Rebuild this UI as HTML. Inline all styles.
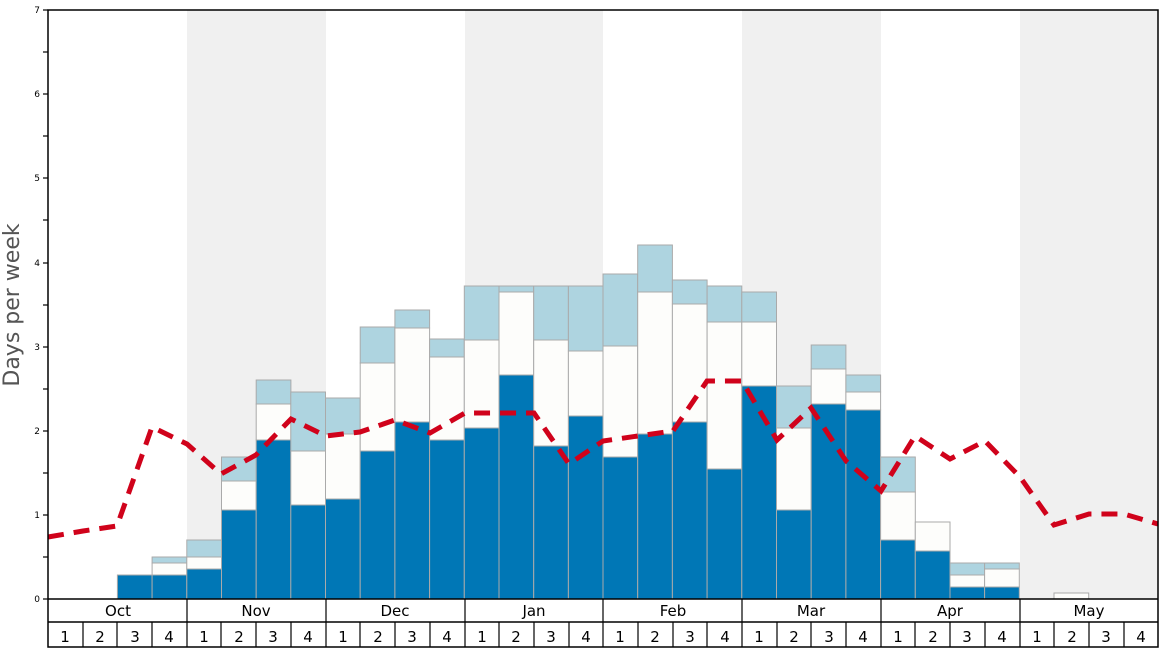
<!DOCTYPE html>
<html><head><meta charset="utf-8"><style>
body{margin:0;background:#fff;}
svg{display:block;font-family:"DejaVu Sans","Liberation Sans",sans-serif;}
</style></head><body>
<svg width="1168" height="648" viewBox="0 0 1168 648">
<script>/* none */</script>
<g id="bg"></g>
<rect x="187" y="10" width="139" height="589" fill="#f0f0f0"/>
<rect x="465" y="10" width="138" height="589" fill="#f0f0f0"/>
<rect x="742" y="10" width="139" height="589" fill="#f0f0f0"/>
<rect x="1020" y="10" width="138" height="589" fill="#f0f0f0"/>
<g stroke="#aaa" stroke-width="1">
<!-- bars: x = 48 + i*34.69 -->
<rect x="117.4" y="575" width="34.7" height="24" fill="#0077b6"/>
<rect x="152.1" y="557" width="34.7" height="6" fill="#aed4e0"/><rect x="152.1" y="563" width="34.7" height="12" fill="#fdfdfb"/><rect x="152.1" y="575" width="34.7" height="24" fill="#0077b6"/>
<rect x="186.8" y="540" width="34.7" height="17" fill="#aed4e0"/><rect x="186.8" y="557" width="34.7" height="12" fill="#fdfdfb"/><rect x="186.8" y="569" width="34.7" height="30" fill="#0077b6"/>
<rect x="221.5" y="457" width="34.7" height="24" fill="#aed4e0"/><rect x="221.5" y="481" width="34.7" height="29" fill="#fdfdfb"/><rect x="221.5" y="510" width="34.7" height="89" fill="#0077b6"/>
<rect x="256.2" y="380" width="34.7" height="24" fill="#aed4e0"/><rect x="256.2" y="404" width="34.7" height="36" fill="#fdfdfb"/><rect x="256.2" y="440" width="34.7" height="159" fill="#0077b6"/>
<rect x="290.8" y="392" width="34.7" height="59" fill="#aed4e0"/><rect x="290.8" y="451" width="34.7" height="54" fill="#fdfdfb"/><rect x="290.8" y="505" width="34.7" height="94" fill="#0077b6"/>
<rect x="325.5" y="398" width="34.7" height="36" fill="#aed4e0"/><rect x="325.5" y="434" width="34.7" height="65" fill="#fdfdfb"/><rect x="325.5" y="499" width="34.7" height="100" fill="#0077b6"/>
<rect x="360.2" y="327" width="34.7" height="36" fill="#aed4e0"/><rect x="360.2" y="363" width="34.7" height="88" fill="#fdfdfb"/><rect x="360.2" y="451" width="34.7" height="148" fill="#0077b6"/>
<rect x="394.9" y="310" width="34.7" height="18" fill="#aed4e0"/><rect x="394.9" y="328" width="34.7" height="94" fill="#fdfdfb"/><rect x="394.9" y="422" width="34.7" height="177" fill="#0077b6"/>
<rect x="429.6" y="339" width="34.7" height="18" fill="#aed4e0"/><rect x="429.6" y="357" width="34.7" height="83" fill="#fdfdfb"/><rect x="429.6" y="440" width="34.7" height="159" fill="#0077b6"/>
<rect x="464.3" y="286" width="34.7" height="54" fill="#aed4e0"/><rect x="464.3" y="340" width="34.7" height="88" fill="#fdfdfb"/><rect x="464.3" y="428" width="34.7" height="171" fill="#0077b6"/>
<rect x="499" y="286" width="34.7" height="6" fill="#aed4e0"/><rect x="499" y="292" width="34.7" height="83" fill="#fdfdfb"/><rect x="499" y="375" width="34.7" height="224" fill="#0077b6"/>
<rect x="533.7" y="286" width="34.7" height="54" fill="#aed4e0"/><rect x="533.7" y="340" width="34.7" height="106" fill="#fdfdfb"/><rect x="533.7" y="446" width="34.7" height="153" fill="#0077b6"/>
<rect x="568.4" y="286" width="34.7" height="65" fill="#aed4e0"/><rect x="568.4" y="351" width="34.7" height="65" fill="#fdfdfb"/><rect x="568.4" y="416" width="34.7" height="183" fill="#0077b6"/>
<rect x="603" y="274" width="34.7" height="72" fill="#aed4e0"/><rect x="603" y="346" width="34.7" height="111" fill="#fdfdfb"/><rect x="603" y="457" width="34.7" height="142" fill="#0077b6"/>
<rect x="637.7" y="245" width="34.7" height="47" fill="#aed4e0"/><rect x="637.7" y="292" width="34.7" height="142" fill="#fdfdfb"/><rect x="637.7" y="434" width="34.7" height="165" fill="#0077b6"/>
<rect x="672.4" y="280" width="34.7" height="24" fill="#aed4e0"/><rect x="672.4" y="304" width="34.7" height="118" fill="#fdfdfb"/><rect x="672.4" y="422" width="34.7" height="177" fill="#0077b6"/>
<rect x="707.1" y="286" width="34.7" height="36" fill="#aed4e0"/><rect x="707.1" y="322" width="34.7" height="147" fill="#fdfdfb"/><rect x="707.1" y="469" width="34.7" height="130" fill="#0077b6"/>
<rect x="741.8" y="292" width="34.7" height="30" fill="#aed4e0"/><rect x="741.8" y="322" width="34.7" height="64" fill="#fdfdfb"/><rect x="741.8" y="386" width="34.7" height="213" fill="#0077b6"/>
<rect x="776.5" y="386" width="34.7" height="42" fill="#aed4e0"/><rect x="776.5" y="428" width="34.7" height="82" fill="#fdfdfb"/><rect x="776.5" y="510" width="34.7" height="89" fill="#0077b6"/>
<rect x="811.2" y="345" width="34.7" height="24" fill="#aed4e0"/><rect x="811.2" y="369" width="34.7" height="35" fill="#fdfdfb"/><rect x="811.2" y="404" width="34.7" height="195" fill="#0077b6"/>
<rect x="845.9" y="375" width="34.7" height="17" fill="#aed4e0"/><rect x="845.9" y="392" width="34.7" height="18" fill="#fdfdfb"/><rect x="845.9" y="410" width="34.7" height="189" fill="#0077b6"/>
<rect x="880.6" y="457" width="34.7" height="35" fill="#aed4e0"/><rect x="880.6" y="492" width="34.7" height="48" fill="#fdfdfb"/><rect x="880.6" y="540" width="34.7" height="59" fill="#0077b6"/>
<rect x="915.3" y="522" width="34.7" height="29" fill="#fdfdfb"/><rect x="915.3" y="551" width="34.7" height="48" fill="#0077b6"/>
<rect x="950" y="563" width="34.7" height="12" fill="#aed4e0"/><rect x="950" y="575" width="34.7" height="12" fill="#fdfdfb"/><rect x="950" y="587" width="34.7" height="12" fill="#0077b6"/>
<rect x="984.6" y="563" width="34.7" height="6" fill="#aed4e0"/><rect x="984.6" y="569" width="34.7" height="18" fill="#fdfdfb"/><rect x="984.6" y="587" width="34.7" height="12" fill="#0077b6"/>
<rect x="1054" y="593" width="34.7" height="6" fill="#fdfdfb"/>
</g>
<polyline fill="none" stroke="#d0021b" stroke-width="5" stroke-dasharray="16 10" points="48,537 83,531 117,526 152,427 187,444 221,474 256,455 291,419 326,436 360,432 395,420 430,433 465,413 499,413 534,413 569,464 603,441 638,436 673,431 707,381 742,381 777,440 811,408 846,461 881,491 915,436 950,459 985,441 1020,477 1054,525 1089,514 1124,514 1158,524"/>
<!-- axes -->
<g stroke="#000" stroke-width="1.5" fill="none">
<rect x="48" y="10" width="1110" height="637"/>
<line x1="48" y1="599" x2="1158" y2="599"/>
<line x1="48" y1="622" x2="1158" y2="622"/>
</g>
<g stroke="#000" stroke-width="1.2">
<line x1="187" y1="599" x2="187" y2="647"/><line x1="326" y1="599" x2="326" y2="647"/><line x1="465" y1="599" x2="465" y2="647"/><line x1="603" y1="599" x2="603" y2="647"/><line x1="742" y1="599" x2="742" y2="647"/><line x1="881" y1="599" x2="881" y2="647"/><line x1="1020" y1="599" x2="1020" y2="647"/>
<line x1="83" y1="622" x2="83" y2="647"/><line x1="117" y1="622" x2="117" y2="647"/><line x1="152" y1="622" x2="152" y2="647"/>
<line x1="221" y1="622" x2="221" y2="647"/><line x1="256" y1="622" x2="256" y2="647"/><line x1="291" y1="622" x2="291" y2="647"/>
<line x1="360" y1="622" x2="360" y2="647"/><line x1="395" y1="622" x2="395" y2="647"/><line x1="430" y1="622" x2="430" y2="647"/>
<line x1="499" y1="622" x2="499" y2="647"/><line x1="534" y1="622" x2="534" y2="647"/><line x1="569" y1="622" x2="569" y2="647"/>
<line x1="638" y1="622" x2="638" y2="647"/><line x1="673" y1="622" x2="673" y2="647"/><line x1="707" y1="622" x2="707" y2="647"/>
<line x1="777" y1="622" x2="777" y2="647"/><line x1="811" y1="622" x2="811" y2="647"/><line x1="846" y1="622" x2="846" y2="647"/>
<line x1="915" y1="622" x2="915" y2="647"/><line x1="950" y1="622" x2="950" y2="647"/><line x1="985" y1="622" x2="985" y2="647"/>
<line x1="1054" y1="622" x2="1054" y2="647"/><line x1="1089" y1="622" x2="1089" y2="647"/><line x1="1124" y1="622" x2="1124" y2="647"/>
<!-- y ticks -->
<line x1="43" y1="599" x2="48" y2="599"/><line x1="43" y1="557" x2="48" y2="557"/><line x1="43" y1="515" x2="48" y2="515"/><line x1="43" y1="473" x2="48" y2="473"/><line x1="43" y1="431" x2="48" y2="431"/><line x1="43" y1="389" x2="48" y2="389"/><line x1="43" y1="347" x2="48" y2="347"/><line x1="43" y1="305" x2="48" y2="305"/><line x1="43" y1="263" x2="48" y2="263"/><line x1="43" y1="220" x2="48" y2="220"/><line x1="43" y1="178" x2="48" y2="178"/><line x1="43" y1="136" x2="48" y2="136"/><line x1="43" y1="94" x2="48" y2="94"/><line x1="43" y1="52" x2="48" y2="52"/><line x1="43" y1="10" x2="48" y2="10"/>
</g>
<g font-size="9" text-anchor="end" fill="#000">
<text x="40" y="602">0</text><text x="40" y="518">1</text><text x="40" y="434">2</text><text x="40" y="350">3</text><text x="40" y="266">4</text><text x="40" y="181">5</text><text x="40" y="97">6</text><text x="40" y="13">7</text>
</g>
<text transform="translate(19,305) rotate(-90)" font-size="22" fill="#555" text-anchor="middle">Days per week</text>
<g font-size="15" text-anchor="middle" fill="#000">
<text x="118" y="616">Oct</text><text x="256" y="616">Nov</text><text x="395" y="616">Dec</text><text x="534" y="616">Jan</text><text x="673" y="616">Feb</text><text x="811" y="616">Mar</text><text x="950" y="616">Apr</text><text x="1089" y="616">May</text>
</g>
<g font-size="15" text-anchor="middle" fill="#000">
<text x="65" y="642">1</text><text x="100" y="642">2</text><text x="135" y="642">3</text><text x="169" y="642">4</text>
<text x="204" y="642">1</text><text x="239" y="642">2</text><text x="273" y="642">3</text><text x="308" y="642">4</text>
<text x="343" y="642">1</text><text x="378" y="642">2</text><text x="412" y="642">3</text><text x="447" y="642">4</text>
<text x="482" y="642">1</text><text x="516" y="642">2</text><text x="551" y="642">3</text><text x="586" y="642">4</text>
<text x="620" y="642">1</text><text x="655" y="642">2</text><text x="690" y="642">3</text><text x="725" y="642">4</text>
<text x="759" y="642">1</text><text x="794" y="642">2</text><text x="829" y="642">3</text><text x="863" y="642">4</text>
<text x="898" y="642">1</text><text x="933" y="642">2</text><text x="967" y="642">3</text><text x="1002" y="642">4</text>
<text x="1037" y="642">1</text><text x="1072" y="642">2</text><text x="1106" y="642">3</text><text x="1141" y="642">4</text>
</g>
</svg>
</body></html>
